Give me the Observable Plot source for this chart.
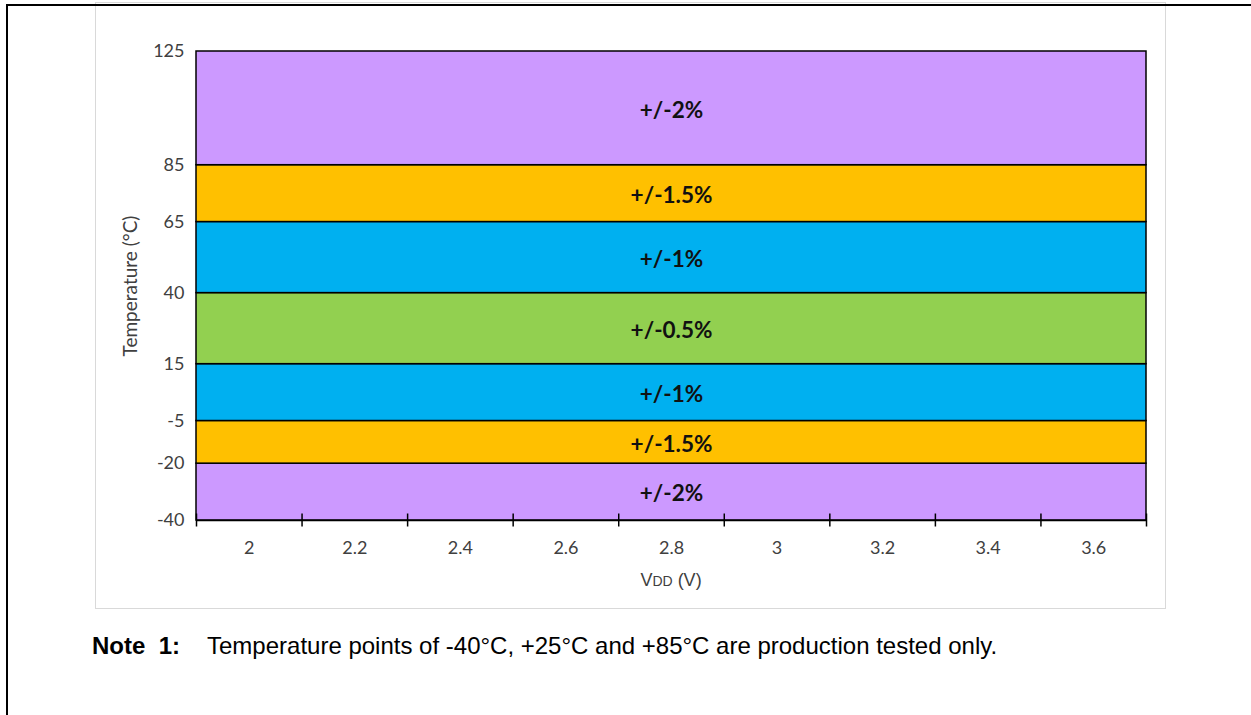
<!DOCTYPE html>
<html>
<head>
<meta charset="utf-8">
<script src="https://cdn.jsdelivr.net/npm/d3@7"></script>
<script src="https://cdn.jsdelivr.net/npm/@observablehq/plot@0.6"></script>
<style>
  html, body { margin: 0; padding: 0; background: #fff; }
  body { width: 1251px; height: 715px; position: relative; overflow: hidden; }
  #outerTop { position: absolute; left: 6px; top: 4px; width: 1245px; height: 2px; background: #000; }
  #outerLeft { position: absolute; left: 6px; top: 4px; width: 2px; height: 711px; background: #000; }
  #panel { position: absolute; left: 95px; top: 2px; width: 1069px; height: 605px; border: 1px solid #d9d9d9; box-sizing: content-box; }
  #chart { position: absolute; left: 0; top: 0; }
  #xtitle { position: absolute; left: 0; width: 1342px; top: 570px; text-align: center; font-family: "Liberation Sans", Arial, sans-serif; font-size: 18px; color: #404040; }
  #note { position: absolute; left: 92px; top: 632px; font-family: "Liberation Sans", Arial, sans-serif; font-size: 24px; color: #000; white-space: nowrap; }
  #note b { display: inline-block; width: 115px; }
</style>
</head>
<body>
<div id="panel"></div>
<div id="outerTop"></div>
<div id="outerLeft"></div>
<div id="chart"></div>
<div id="xtitle">V<span style="font-size:14px">DD</span> (V)</div>
<div id="note"><b>Note&nbsp;&nbsp;1:</b>Temperature points of -40°C, +25°C and +85°C are production tested only.</div>
<script>
// Temperature bands (°C) and their accuracy labels
const bandLow  = [-40, -20, -5, 15, 40, 65, 85];
const bandHigh = [-20, -5, 15, 40, 65, 85, 125];
const bandLabels = ["+/-2%", "+/-1.5%", "+/-1%", "+/-0.5%", "+/-1%", "+/-1.5%", "+/-2%"];
const bandColors = ["#CC99FF", "#FFC000", "#00B0F0", "#92D050", "#00B0F0", "#FFC000", "#CC99FF"];
const yTicks = [-40, -20, -5, 15, 40, 65, 85, 125];
const xDomain = [1.9, 3.7];
const xTickMarks = [1.9, 2.1, 2.3, 2.5, 2.7, 2.9, 3.1, 3.3, 3.5, 3.7];
const xTickLabels = [2, 2.2, 2.4, 2.6, 2.8, 3, 3.2, 3.4, 3.6];

const bands = bandLow.map((lo, i) => ({lo, hi: bandHigh[i], label: bandLabels[i], color: bandColors[i], mid: (lo + bandHigh[i]) / 2}));

const chart = Plot.plot({
  width: 1251,
  height: 715,
  marginLeft: 196,
  marginRight: 105,
  marginTop: 51,
  marginBottom: 195,
  style: {fontFamily: "Lato, 'Open Sans', sans-serif", fontSize: "18px", background: "transparent", overflow: "visible"},
  x: {domain: xDomain},
  y: {domain: [-40, 125]},
  marks: [
    Plot.rect(bands, {x1: xDomain[0], x2: xDomain[1], y1: "lo", y2: "hi", fill: "color", stroke: "#000", strokeWidth: 1.5}),
    Plot.text(bands, {x: (xDomain[0] + xDomain[1]) / 2, y: "mid", text: "label", fontSize: 22.5, fontWeight: "bold", fill: "#111", dy: 2}),
    Plot.ruleY([-40], {stroke: "#000", strokeWidth: 1.5}),
    Plot.axisY({ticks: yTicks, tickSize: 0, tickPadding: 12, fontSize: 18, fill: "#404040", tickFormat: d => String(d), label: null}),
    Plot.text(["Temperature (°C)"], {frameAnchor: "left", textAnchor: "middle", dx: -66, rotate: -90, fontSize: 19, fill: "#404040"}),
    Plot.axisX({ticks: xTickMarks, tickSize: 13, dy: -6.5, tickFormat: () => "", stroke: "#000", strokeWidth: 1.5, label: null}),
    Plot.axisX({ticks: xTickLabels, tickSize: 0, tickPadding: 21, fontSize: 18, fill: "#404040", tickFormat: d => String(d), label: null})
  ]
});
document.getElementById("chart").appendChild(chart);
</script>
</body>
</html>
